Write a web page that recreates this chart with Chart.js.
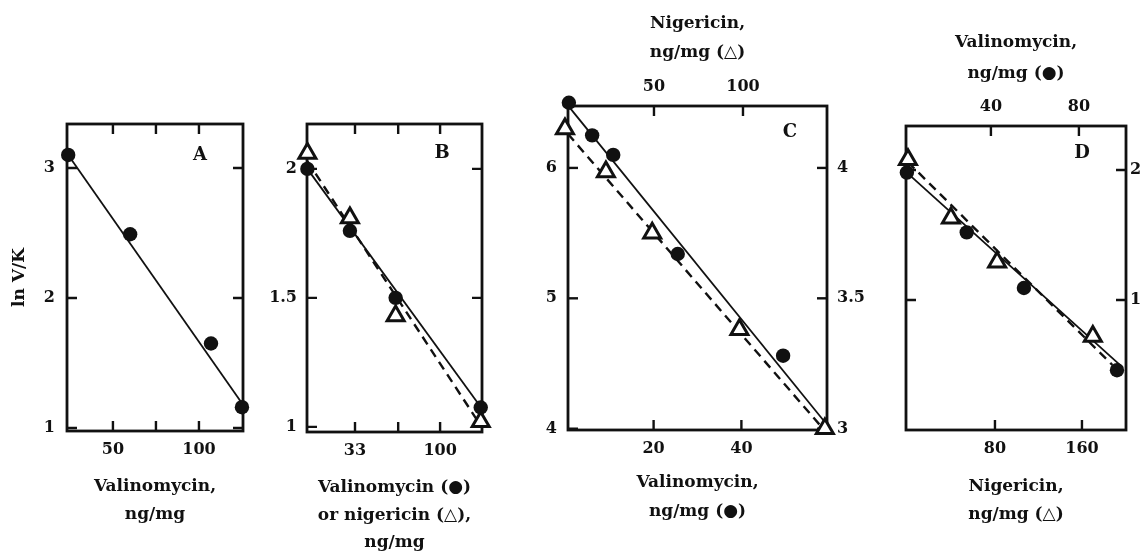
<!DOCTYPE html>
<html>
<head>
<meta charset="utf-8">
<script src="https://cdn.jsdelivr.net/npm/chart.js@4.4.0/dist/chart.umd.min.js"></script>
<style>
  html, body { margin: 0; padding: 0; background: #fff; overflow: hidden; width: 1142px; height: 552px; }
  canvas { position: absolute; top: 0; }
</style>
</head>
<body>
<canvas id="panelA" width="265" height="570" style="left:0px"></canvas>
<canvas id="panelB" width="245" height="570" style="left:255px"></canvas>
<canvas id="panelC" width="350" height="570" style="left:520px"></canvas>
<canvas id="panelD" width="272" height="570" style="left:870px"></canvas>
<script>
// Panel A - valinomycin
const aValino = [24, 60, 107, 125];
const aLnVK = [3.1, 2.49, 1.65, 1.16];
const aFitX = [24, 125];
const aFitY = [3.1, 1.19];
const aXTicks = [50, 75, 100];
const aXLabels = ['50', '', '100'];
const aYTicks = [1, 2, 3];
const aYLabels = ['1', '2', '3'];

// Panel B - valinomycin (circles) or nigericin (triangles)
const bDose = [-4.5, 29, 65, 132];
const bValino = [2.0, 1.76, 1.5, 1.075];
const bNiger = [2.06, 1.81, 1.43, 1.02];
const bValinoFitX = [-4.5, 133];
const bValinoFitY = [2.0, 1.07];
const bNigerFitX = [-4.5, 130];
const bNigerFitY = [2.03, 1.02];
const bXTicks = [33, 67, 100];
const bXLabels = ['33', '', '100'];
const bYTicks = [1, 1.5, 2];
const bYLabels = ['1', '1.5', '2'];

// Panel C - valinomycin bottom/left, nigericin top/right
const cValino = [0.7, 6, 10.8, 25.5, 49.5];
const cValinoLn = [6.5, 6.25, 6.1, 5.34, 4.56];
const cNiger = [0, 23, 49, 98, 146];
const cNigerLn = [4.15, 3.985, 3.75, 3.38, 3.0];
const cValinoFitX = [0.7, 59.5];
const cValinoFitY = [6.47, 4.03];
const cNigerFitX = [1.7, 145];
const cNigerFitY = [4.13, 3.0];
const cXTicks = [20, 40];
const cXLabels = ['20', '40'];
const cX2Ticks = [50, 100];
const cX2Labels = ['50', '100'];
const cYTicks = [4, 5, 6];
const cYLabels = ['4', '5', '6'];
const cY2Ticks = [3, 3.5, 4];
const cY2Labels = ['3', '3.5', '4'];

// Panel D - nigericin bottom, valinomycin top
const dValino = [1.8, 29, 55, 97.3];
const dValinoLn = [1.99, 1.76, 1.546, 1.23];
const dNiger = [0, 39.5, 82, 170];
const dNigerLn = [2.04, 1.815, 1.646, 1.36];
const dValinoFitX = [1.8, 100];
const dValinoFitY = [1.99, 1.24];
const dNigerFitX = [0, 188];
const dNigerFitY = [2.03, 1.25];
const dXTicks = [80, 160];
const dXLabels = ['80', '160'];
const dX2Ticks = [40, 80];
const dX2Labels = ['40', '80'];
const dYTicks = [1.5, 2];
const dYLabels = ['1.5', '2'];

const ink = '#111';
const serif = "'DejaVu Serif', 'Liberation Serif', serif";
const tickFont = { family: serif, size: 16, weight: 'bold' };

const pts = (xs, ys) => xs.map((x, i) => ({ x, y: ys[i] }));

function scale(position, min, max, values, labels, size, pad, title) {
  const s = {
    type: 'linear', position, min, max,
    grid: { display: false, drawTicks: false },
    border: { display: false },
    afterBuildTicks: sc => { sc.ticks = values.map(v => ({ value: v })); },
    afterFit: sc => { if (sc.isHorizontal()) sc.height = size; else sc.width = size; },
    ticks: { callback: (v, i) => labels[i], autoSkip: false, maxRotation: 0, padding: pad, color: ink, font: tickFont }
  };
  if (title) s.title = title;
  return s;
}

function title(text, lineHeight, padding) {
  return { display: true, text, color: ink, padding,
    font: { family: serif, size: 17, weight: 'bold', lineHeight: lineHeight / 17 } };
}

const circle = (data, x, y) => ({ data, xAxisID: x, yAxisID: y, pointStyle: 'circle', pointRadius: 7.2,
  backgroundColor: ink, borderColor: ink, borderWidth: 0, showLine: false, clip: false });
const triangle = (data, x, y) => ({ data, xAxisID: x, yAxisID: y, pointStyle: 'triangle', pointRadius: 9.8,
  backgroundColor: '#fff', borderColor: ink, borderWidth: 3, showLine: false, clip: false });
const fit = (data, x, y, dashed) => ({ data, xAxisID: x, yAxisID: y, showLine: true, pointRadius: 0,
  borderColor: ink, borderWidth: dashed ? 2.4 : 1.8, borderDash: dashed ? [9, 6] : [], clip: false });

// box, inward tick marks and panel letter
const framePlugin = {
  id: 'frame',
  beforeDatasetsDraw(chart, args, opts) {
    const { ctx, chartArea: a } = chart;
    const len = 10;
    ctx.save();
    ctx.strokeStyle = ink;
    ctx.lineWidth = 2.8;
    ctx.strokeRect(a.left, a.top, a.right - a.left, a.bottom - a.top);
    ctx.lineWidth = 2.4;
    Object.values(chart.scales).forEach(s => {
      const horiz = s.isHorizontal();
      const mirror = horiz ? opts.mirrorX : opts.mirrorY;
      s.ticks.forEach(t => {
        const p = s.getPixelForValue(t.value);
        ctx.beginPath();
        if (horiz) {
          if (s.position === 'bottom' || mirror) { ctx.moveTo(p, a.bottom); ctx.lineTo(p, a.bottom - len); }
          if (s.position === 'top' || mirror) { ctx.moveTo(p, a.top); ctx.lineTo(p, a.top + len); }
        } else {
          if (s.position === 'left' || mirror) { ctx.moveTo(a.left, p); ctx.lineTo(a.left + len, p); }
          if (s.position === 'right' || mirror) { ctx.moveTo(a.right, p); ctx.lineTo(a.right - len, p); }
        }
        ctx.stroke();
      });
    });
    ctx.restore();
  },
  afterDraw(chart, args, opts) {
    const { ctx, chartArea: a } = chart;
    ctx.save();
    ctx.fillStyle = ink;
    ctx.font = 'bold 18px ' + serif;
    ctx.textAlign = 'center';
    ctx.textBaseline = 'middle';
    ctx.fillText(opts.letter, a.right - opts.dx, a.top + opts.dy);
    ctx.restore();
  }
};

function panel(id, scales, datasets, padding, frame) {
  return new Chart(document.getElementById(id), {
    type: 'scatter',
    data: { datasets },
    options: {
      responsive: false,
      animation: false,
      devicePixelRatio: 1,
      layout: { padding },
      scales,
      plugins: { legend: { display: false }, tooltip: { enabled: false }, frame }
    },
    plugins: [framePlugin]
  });
}

// Panel A
panel('panelA', {
  x: scale('bottom', 23.3, 125.6, aXTicks, aXLabels, 139, 9, title(['Valinomycin,', 'ng/mg'], 28, { top: 0, bottom: 41 })),
  y: scale('left', 0.977, 3.338, aYTicks, aYLabels, 67, 12, title('ln V/K', 20, { top: 10, bottom: 0 }))
}, [
  circle(pts(aValino, aLnVK), 'x', 'y'),
  fit(pts(aFitX, aFitY), 'x', 'y', false)
], { left: 0, top: 124, right: 22, bottom: 0 }, { mirrorX: true, mirrorY: true, letter: 'A', dx: 43, dy: 31 });

// Panel B
panel('panelB', {
  x: scale('bottom', -4.8, 133, bXTicks, bXLabels, 138, 9,
    title(['Valinomycin (●)', 'or nigericin (△),', 'ng/mg'], 27.5, { top: 0, bottom: 13.25 })),
  y: scale('left', 0.98, 2.174, bYTicks, bYLabels, 52, 10)
}, [
  triangle(pts(bDose, bNiger), 'x', 'y'),
  circle(pts(bDose, bValino), 'x', 'y'),
  fit(pts(bValinoFitX, bValinoFitY), 'x', 'y', false),
  fit(pts(bNigerFitX, bNigerFitY), 'x', 'y', true)
], { left: 0, top: 124, right: 18, bottom: 0 }, { mirrorX: true, mirrorY: true, letter: 'B', dx: 40, dy: 29 });

// Panel C
panel('panelC', {
  x: scale('bottom', 0.5, 59.5, cXTicks, cXLabels, 140, 9, title(['Valinomycin,', 'ng/mg (●)'], 29, { top: 0, bottom: 43.5 })),
  x2: scale('top', 1.7, 147.2, cX2Ticks, cX2Labels, 106, 10, title(['Nigericin,', 'ng/mg (△)'], 29, { top: 9.5, bottom: 0 })),
  y: scale('left', 3.99, 6.475, cYTicks, cYLabels, 48, 11),
  y2: scale('right', 2.995, 4.2375, cY2Ticks, cY2Labels, 43, 10)
}, [
  triangle(pts(cNiger, cNigerLn), 'x2', 'y2'),
  circle(pts(cValino, cValinoLn), 'x', 'y'),
  fit(pts(cValinoFitX, cValinoFitY), 'x', 'y', false),
  fit(pts(cNigerFitX, cNigerFitY), 'x2', 'y2', true)
], { left: 0, top: 0, right: 0, bottom: 0 }, { mirrorX: false, mirrorY: false, letter: 'C', dx: 37, dy: 26 });

// Panel D
panel('panelD', {
  x: scale('bottom', -1.8, 200.5, dXTicks, dXLabels, 140, 9, title(['Nigericin,', 'ng/mg (△)'], 28, { top: 0, bottom: 41 })),
  x2: scale('top', 1.4, 101.4, dX2Ticks, dX2Labels, 126, 10, title(['Valinomycin,', 'ng/mg (●)'], 31, { top: 27.5, bottom: 0 })),
  y: scale('right', 1.0, 2.169, dYTicks, dYLabels, 16, 4)
}, [
  triangle(pts(dNiger, dNigerLn), 'x', 'y'),
  circle(pts(dValino, dValinoLn), 'x2', 'y'),
  fit(pts(dValinoFitX, dValinoFitY), 'x2', 'y', false),
  fit(pts(dNigerFitX, dNigerFitY), 'x', 'y', true)
], { left: 36, top: 0, right: 0, bottom: 0 }, { mirrorX: false, mirrorY: true, letter: 'D', dx: 44, dy: 27 });
</script>
</body>
</html>
